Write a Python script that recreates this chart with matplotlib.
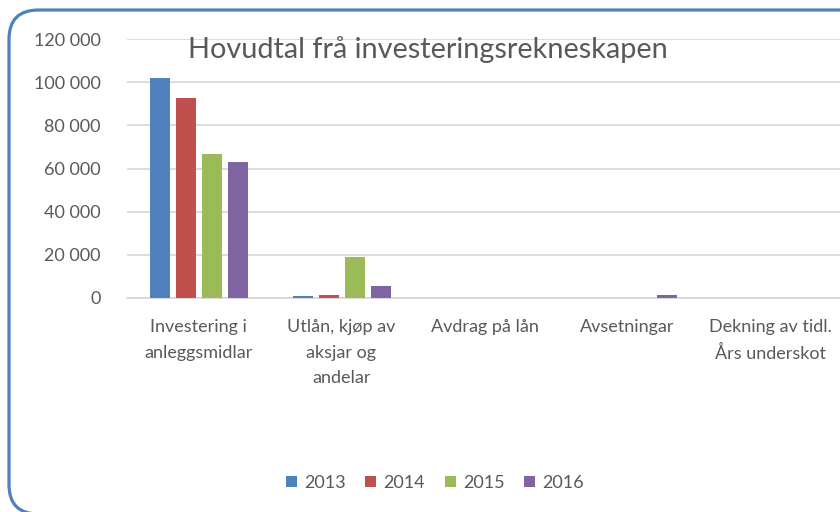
import matplotlib
matplotlib.use("Agg")
import matplotlib.pyplot as plt
import numpy as np
from matplotlib.patches import FancyBboxPatch
from matplotlib.ticker import FuncFormatter

categories = ["Investering i\nanleggsmidlar", "Utlån, kjøp av\naksjar og\nandelar",
              "Avdrag på lån", "Avsetningar", "Dekning av tidl.\nÅrs underskot"]
years = ["2013", "2014", "2015", "2016"]
v2013 = [102000, 1000, 0, 0, 0]
v2014 = [92700, 1500, 0, 0, 0]
v2015 = [66700, 19200, 0, 0, 0]
v2016 = [63000, 5700, 0, 1500, 0]
series = [v2013, v2014, v2015, v2016]
colors = ["#4F81BD", "#C0504D", "#9BBB59", "#8064A2"]
yticks = [0, 20000, 40000, 60000, 80000, 100000, 120000]

plt.rcParams['font.family'] = ['Lato', 'DejaVu Sans']
W, H = 840, 512
fig = plt.figure(figsize=(W/100, H/100), dpi=100)
fig.patch.set_facecolor("white")

# rounded border
border = FancyBboxPatch((9/W, 1-514/H), (900-9)/W, (514-10)/H,
                        boxstyle="round,pad=0,rounding_size=0.035",
                        transform=fig.transFigure, fill=False,
                        edgecolor="#4F81BD", linewidth=2.3, mutation_aspect=W/H)
fig.patches.append(border)

ax = fig.add_axes([127/W, 1-298/H, (842-127)/W, (298-39)/H])
x = np.arange(len(categories))
step = 26/143
bw = 20/143
for i, (vals, c, yr) in enumerate(zip(series, colors, years)):
    ax.bar(x + (i-1.5)*step, vals, width=bw, color=c, label=yr, zorder=3)

ax.set_xlim(-0.5, len(categories)-0.5)
ax.set_ylim(0, 120000)
ax.set_yticks(yticks)
ax.yaxis.set_major_formatter(FuncFormatter(lambda v, p: f"{int(v):,}".replace(",", " ")))
ax.grid(axis="y", color="#D9D9D9", linewidth=1.3, zorder=0)
for s in ["top", "right", "left"]:
    ax.spines[s].set_visible(False)
ax.spines["bottom"].set_color("#D9D9D9")
ax.spines["bottom"].set_linewidth(1.3)
ax.tick_params(axis="both", length=0, colors="#595959", labelsize=13)
ax.tick_params(axis="y", pad=19)
ax.tick_params(axis="x", pad=15)
ax.set_xticks(x)
ax.set_xticklabels(categories, linespacing=1.75)

fig.text(428/W, 1-50/H, "Hovudtal frå investeringsrekneskapen", ha="center", va="center",
         fontsize=20.8, color="#595959")

leg = fig.legend(loc="center", bbox_to_anchor=(435/W, 1-483/H), ncol=4, frameon=False,
                 fontsize=13, handlelength=0.6, handleheight=0.6, handletextpad=0.4,
                 columnspacing=1.1, labelcolor="#595959")

fig.savefig("out.png", dpi=100)
